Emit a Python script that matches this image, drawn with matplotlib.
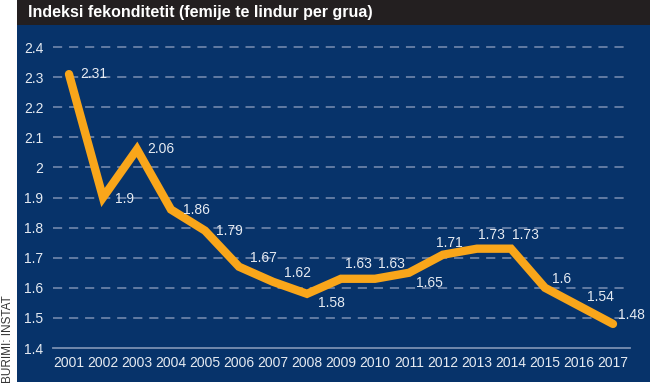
import matplotlib
matplotlib.use('Agg')
import matplotlib.pyplot as plt
from matplotlib.patches import Rectangle

# fertility index (births per woman), source INSTAT
years = [2001, 2002, 2003, 2004, 2005, 2006, 2007, 2008, 2009,
         2010, 2011, 2012, 2013, 2014, 2015, 2016, 2017]
values = [2.31, 1.9, 2.06, 1.86, 1.79, 1.67, 1.62, 1.58, 1.63,
          1.63, 1.65, 1.71, 1.73, 1.73, 1.6, 1.54, 1.48]
labels = ['2.31', '1.9', '2.06', '1.86', '1.79', '1.67', '1.62', '1.58', '1.63',
          '1.63', '1.65', '1.71', '1.73', '1.73', '1.6', '1.54', '1.48']
yticks = [1.4, 1.5, 1.6, 1.7, 1.8, 1.9, 2.0, 2.1, 2.2, 2.3, 2.4]
ytick_labels = ['1.4', '1.5', '1.6', '1.7', '1.8', '1.9', '2', '2.1', '2.2', '2.3', '2.4']

# label offsets in pixels (dx, dy), dy positive = up
offsets = [(11, 0), (12, -1), (10, 0), (12, 0), (11, 0), (11, 9), (11, 9), (11, -9),
           (4, 15), (3, 15), (7, -10), (-7, 12), (1, 14), (1, 14), (7, 9), (8, 9), (5, 9)]

BLUE = '#07336a'
BAR = '#231f20'
ORANGE = '#f9a61a'
GRID = '#7a8fb2'
TXT = '#e6ebf2'

plt.rcParams['font.family'] = ['Liberation Sans', 'DejaVu Sans']

W, H = 650, 388
fig = plt.figure(figsize=(6.5, 3.88), dpi=100)
fig.patch.set_facecolor('white')

# background panels
fig.patches.append(Rectangle((17 / W, 1 - 382 / H), 1 - 17 / W, (382 - 25) / H,
                             transform=fig.transFigure, facecolor=BLUE, edgecolor='none', zorder=-2))
fig.patches.append(Rectangle((17 / W, 1 - 25 / H), 1 - 17 / W, 25 / H,
                             transform=fig.transFigure, facecolor=BAR, edgecolor='none', zorder=-2))
fig.text(28 / W, 1 - 13 / H, 'Indeksi fekonditetit (femije te lindur per grua)',
         color='white', fontsize=11.5, fontweight='bold', va='center', ha='left')
fig.text(8 / W, 1 - 383 / H, 'BURIMI: INSTAT', rotation=90, color='#333333',
         fontsize=8.5, va='bottom', ha='center')

ax = fig.add_axes([53 / W, 1 - 348 / H, (630 - 53) / W, (348 - 38) / H])
ax.set_facecolor('none')
ax.set_xlim(2000.53, 2017.5)
ax.set_ylim(1.4, 2.43)

for y in yticks[1:]:
    ax.axhline(y, color=GRID, lw=1.1, ls=(0, (6, 4.5)), zorder=1)
ax.axhline(1.4, color=GRID, lw=1.3, zorder=1, clip_on=False)

ax.plot(years, values, color=ORANGE, lw=6, solid_capstyle='round',
        solid_joinstyle='miter', zorder=3)

for x, v, lab, (dx, dy) in zip(years, values, labels, offsets):
    ax.annotate(lab, (x, v), xytext=(dx * 0.72, dy * 0.72), textcoords='offset points',
                color=TXT, fontsize=10, ha='left', va='center', zorder=4)

ax.set_yticks(yticks)
ax.set_yticklabels(ytick_labels)
ax.set_xticks(years)
ax.set_xticklabels([str(y) for y in years])
ax.tick_params(length=0, colors=TXT, labelsize=10)
ax.tick_params(axis='y', pad=7)
ax.tick_params(axis='x', pad=6)
for s in ax.spines.values():
    s.set_visible(False)

fig.savefig('out.png', dpi=100, facecolor='white')
